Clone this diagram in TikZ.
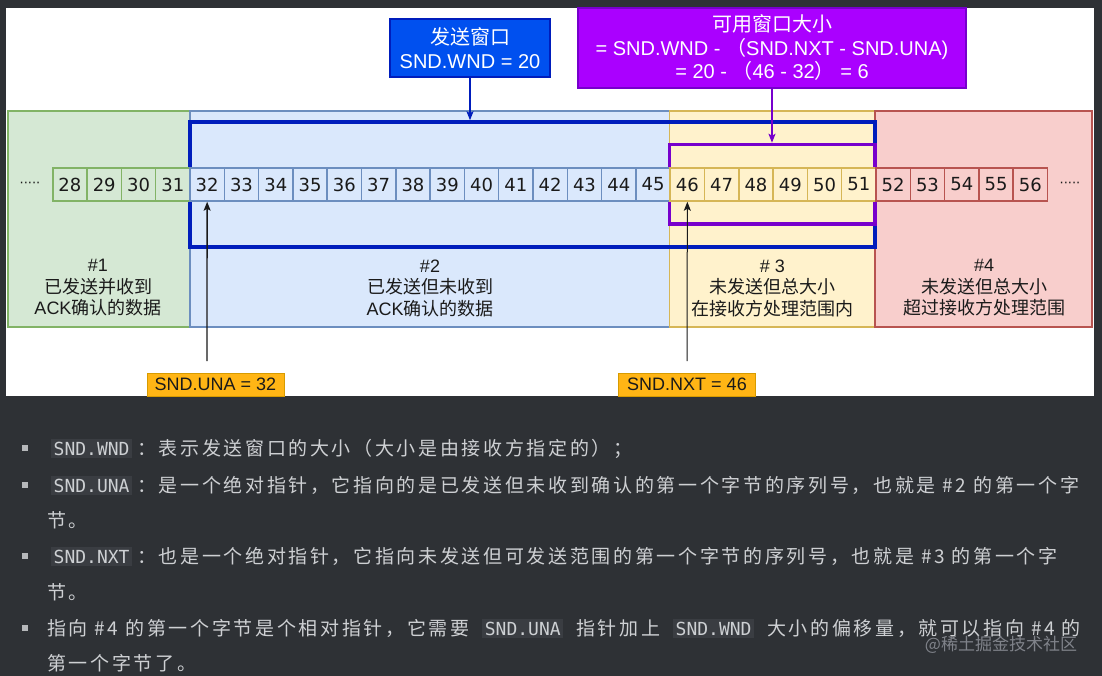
\documentclass[tikz,border=0pt]{standalone}
\usepackage{fontspec}
\setmainfont{Liberation Sans}
\newfontfamily\cjk{Noto Sans CJK SC}
\newfontfamily\cjkbody[LetterSpace=14]{Noto Sans CJK SC}
\newfontfamily\numfont{DejaVu Sans}
\newfontfamily\monofont{DejaVu Sans Mono}
\usetikzlibrary{arrows.meta}

\definecolor{pagebg}{HTML}{2E3135}
\definecolor{codebg}{HTML}{3A3D42}
\definecolor{codefg}{HTML}{CDD0D3}
\definecolor{bodyfg}{HTML}{CED0D3}
\definecolor{wmark}{HTML}{80838A}
\definecolor{greenfill}{HTML}{D5E8D4}
\definecolor{greenline}{HTML}{82B366}
\definecolor{bluefill}{HTML}{DAE8FC}
\definecolor{blueline}{HTML}{6C8EBF}
\definecolor{yellowfill}{HTML}{FFF2CC}
\definecolor{yellowline}{HTML}{D6B656}
\definecolor{redfill}{HTML}{F8CECC}
\definecolor{redline}{HTML}{B85450}
\definecolor{winblue}{HTML}{001DBC}
\definecolor{wndfill}{HTML}{0050EF}
\definecolor{usefill}{HTML}{AA00FF}
\definecolor{useline}{HTML}{7700CC}
\definecolor{ptrfill}{HTML}{FFB515}
\definecolor{ptrline}{HTML}{D79B00}
\definecolor{ink}{HTML}{1A1A1A}

\newcommand{\ic}[1]{{\fboxsep=2.5pt\colorbox{codebg}{\monofont\fontsize{18}{20}\selectfont\color{codefg}#1}}}
\newcommand{\icgap}[1]{\hspace{13pt}\ic{#1}\hspace{13pt}}

\tikzset{
  cell/.style={draw, line width=1.5pt, minimum width=34.3, minimum height=33, inner sep=0pt,
    text=ink, font=\numfont\fontsize{18}{20}\selectfont},
  ackd/.style={fill=greenfill, draw=greenline},
  unackd/.style={fill=bluefill, draw=blueline},
  usable/.style={fill=yellowfill, draw=yellowline},
  blocked/.style={fill=redfill, draw=redline},
  regionlbl/.style={align=center, text=ink, font=\fontsize{18}{21.5}\selectfont},
  infobox/.style={draw, line width=1.2pt, text=white, align=center, inner sep=0pt,
    font=\fontsize{20}{23.5}\selectfont},
  ptrlbl/.style={fill=ptrfill, draw=ptrline, line width=1pt, text=ink, inner sep=0pt,
    minimum width=137, minimum height=23, font=\fontsize{18}{20}\selectfont},
  tip/.style={-{Stealth[length=9pt,width=7pt,inset=2pt]}},
  bodyline/.style={anchor=base west, inner sep=0pt, text=bodyfg,
    font=\cjkbody\fontsize{19}{22}\selectfont},
  bulletsq/.style={fill=bodyfg!85!pagebg, minimum size=6.5, inner sep=0pt}
}

\begin{document}
\begin{tikzpicture}[x=1pt,y=-1pt]

% page
\fill[pagebg] (0,0) rectangle (1102,676);
\fill[white] (6,8) rectangle (1094,396);

% the four parts of the byte stream
\draw[ackd, line width=1.5pt] (8,111) rectangle (190,327);      % #1
\draw[unackd, line width=1.5pt] (190,111) rectangle (669.4,327); % #2
\draw[usable, line width=1.5pt] (669.4,111) rectangle (875.2,327); % #3
\draw[blocked, line width=1.5pt] (875.2,111) rectangle (1092,327); % #4

% windows
\node[draw=winblue, line width=3.5pt, minimum width=685.2, minimum height=125, inner sep=0pt]
  (sndwin) at (532.6,184.5) {};
\node[draw=useline, line width=3.5pt, minimum width=205.8, minimum height=79.5, inner sep=0pt]
  (usewin) at (772.3,184.25) {};

% bytes
\foreach \n in {28,...,31}
  \node[cell, ackd] (c\n) at ({69.95+(\n-28)*34.3},184.5) {\n};
\foreach \n in {32,...,45}
  \node[cell, unackd] (c\n) at ({69.95+(\n-28)*34.3},184.5) {\n};
\foreach \n in {46,...,51}
  \node[cell, usable] (c\n) at ({69.95+(\n-28)*34.3},184.5) {\n};
\foreach \n in {52,...,56}
  \node[cell, blocked] (c\n) at ({69.95+(\n-28)*34.3},184.5) {\n};

\node[text=ink, font=\numfont\fontsize{13}{13}\selectfont] (dotsl) at (30,185) {·····};
\node[text=ink, font=\numfont\fontsize{13}{13}\selectfont] (dotsr) at (1070,185) {·····};

% part labels
\node[regionlbl] (r1) at (98,288) {\#1\\{\cjk 已发送并收到}\\ACK{\cjk 确认的数据}};
\node[regionlbl] (r2) at (430,288) {\#2\\{\cjk 已发送但未收到}\\ACK{\cjk 确认的数据}};
\node[regionlbl] (r3) at (772.5,288) {\# 3\\{\cjk 未发送但总大小}\\{\cjk 在接收方处理范围内}};
\node[regionlbl] (r4) at (984,288) {\#4\\{\cjk 未发送但总大小}\\{\cjk 超过接收方处理范围}};

% window sizes
\node[infobox, fill=wndfill, draw=winblue, minimum width=160, minimum height=58]
  (wnd) at (470,48) {{\cjk 发送窗口}\\SND.WND = 20};
\node[infobox, fill=usefill, draw=useline, minimum width=388, minimum height=80]
  (use) at (772,48) {{\cjk 可用窗口大小}\\= SND.WND - {\cjk （}SND.NXT - SND.UNA)\\= 20 - {\cjk （}46 - 32{\cjk ）} = 6};

\draw[tip, winblue, line width=1.5pt] (wnd) -- (wnd.south |- sndwin.north);
\draw[tip, useline, line width=1.5pt] (use) -- (use.south |- usewin.north);

% pointers
\node[ptrlbl] (una) at (215.5,384.5) {SND.UNA = 32};
\node[ptrlbl] (nxt) at (687,384.5) {SND.NXT = 46};
\coordinate (unatail) at (207,361);
\coordinate (nxttail) at (687,361);
\draw[tip, ink, line width=1.3pt] (unatail) -- (c32.south);
\draw[tip, ink, line width=1pt] (nxttail) -- (c46.south);

% notes below
\node[bulletsq] (b1) at (25,448) {};
\node[bulletsq] (b2) at (25,485) {};
\node[bulletsq] (b3) at (25,556) {};
\node[bulletsq] (b4) at (25,628) {};
\node[bodyline] (l1) at (51,455) {\ic{SND.WND}\hspace{5pt}：表示发送窗口的大小（大小是由接收方指定的）；};
\node[bodyline] (l2) at (51,492) {\ic{SND.UNA}\hspace{5pt}：是一个绝对指针，它指向的是已发送但未收到确认的第一个字节的序列号，也就是 \#2 的第一个字};
\node[bodyline] (l3) at (47,527) {节。};
\node[bodyline] (l4) at (51,563) {\ic{SND.NXT}\hspace{5pt}：也是一个绝对指针，它指向未发送但可发送范围的第一个字节的序列号，也就是 \#3 的第一个字};
\node[bodyline] (l5) at (47,599) {节。};
\node[bodyline] (l6) at (47,635) {指向 \#4 的第一个字节是个相对指针，它需要\icgap{SND.UNA}指针加上\icgap{SND.WND}大小的偏移量，就可以指向 \#4 的};
\node[bodyline] (l7) at (47,670) {第一个字节了。};
\node[text=wmark, font=\cjk\fontsize{17}{17}\selectfont] (wm) at (1001,645) {@稀土掘金技术社区};

\end{tikzpicture}
\end{document}
